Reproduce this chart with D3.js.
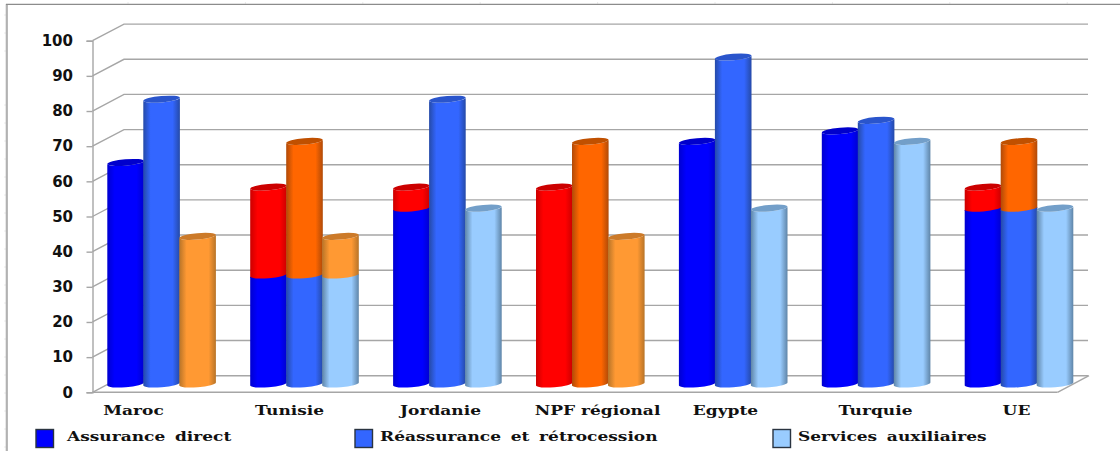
<!DOCTYPE html>
<html>
<head>
<meta charset="utf-8">
<script src="https://cdn.jsdelivr.net/npm/d3@7"></script>
<style>
html, body { margin: 0; padding: 0; background: #fff; }
svg { display: block; }
.cat, .leg { font-family: "DejaVu Serif", serif; font-weight: bold; fill: #111; }
.val { font-family: "DejaVu Sans", sans-serif; font-weight: bold; fill: #111; }
</style>
</head>
<body>
<div id="chart"></div>
<script>
const categories = ["Maroc", "Tunisie", "Jordanie", "NPF régional", "Egypte", "Turquie", "UE"];
const seriesNames = ["Assurance direct", "Réassurance et rétrocession", "Services auxiliaires"];

// lower part of each cylinder, in the series colour
const assuranceValues = [63, 31, 50, 0, 69, 72, 50];
const reassuranceValues = [81, 31, 81, 0, 93, 75, 50];
const servicesValues = [0, 31, 50, 0, 50, 69, 50];

// total height of each cylinder, the part above the lower value is in the warm colour
const assuranceTops = [63, 56, 56, 56, 69, 72, 56];
const reassuranceTops = [81, 69, 81, 69, 93, 75, 69];
const servicesTops = [42, 42, 50, 42, 50, 69, 50];

const yTicks = [0, 10, 20, 30, 40, 50, 60, 70, 80, 90, 100];

const width = 1120;
const height = 451;

const svg = d3.select("#chart").append("svg").attr("width", width).attr("height", height);
const defs = svg.append("defs");

// cool colour, warm colour, and the darker lids
const palette = [
	{ low: "#0000ff", lowEdge: "#0000d0", lowLid: "#0000cc", high: "#ff0000", highEdge: "#cc0000", highLid: "#cc0000" },
	{ low: "#3366ff", lowEdge: "#254aa8", lowLid: "#2a55cc", high: "#ff6600", highEdge: "#b04a08", highLid: "#c05000" },
	{ low: "#99ccff", lowEdge: "#5f85a8", lowLid: "#739fc9", high: "#ff9933", highEdge: "#b87428", highLid: "#cc7a29" },
];

function addGradient(id, main, edge) {
	const g = defs.append("linearGradient").attr("id", id);
	[[0, edge], [0.2, main], [0.8, main], [1, edge]].forEach(([o, c]) => {
		g.append("stop").attr("offset", o).attr("stop-color", c);
	});
}
palette.forEach((p, i) => {
	addGradient("low" + i, p.low, p.lowEdge);
	addGradient("high" + i, p.high, p.highEdge);
});

// front plane of the 3D box, the back wall sits up and to the right of it
const y = d3.scaleLinear().domain([0, 100]).range([392.3, 40.7]);
const depthX = 31.5;
const depthY = 16.6;
const frontLeft = 92.5;
const frontRight = 1057.5;

// frame around the plot, with its faint ruler marks
const frame = svg.append("g").attr("fill", "none");
frame.append("line").attr("x1", 6.8).attr("x2", 6.8).attr("y1", 4).attr("y2", 451)
	.attr("stroke", "#b2b2b2").attr("stroke-width", 2.2);
frame.append("line").attr("x1", 6).attr("x2", 1120).attr("y1", 4.4).attr("y2", 4.4)
	.attr("stroke", "#8c8c8c").attr("stroke-width", 1.2);
frame.selectAll(".topmark").data(d3.range(128, 1120, 117.4)).join("line")
	.attr("stroke", "#d4d4d4")
	.attr("x1", (d) => d).attr("x2", (d) => d).attr("y1", 2.5).attr("y2", 4);
frame.selectAll(".leftmark").data(d3.range(15, 451, 18).filter((d) => d < 60 || d > 95)).join("line")
	.attr("stroke", "#d8d8d8")
	.attr("x1", 4.5).attr("x2", 6).attr("y1", (d) => d).attr("y2", (d) => d);

// back wall grid and the diagonal returns on the side wall
const grid = svg.append("g").attr("stroke", "#a6a6a6").attr("stroke-width", 1.4).attr("fill", "none");
grid.selectAll(".wall").data(yTicks).join("path")
	.attr("d", (d) => `M${frontLeft},${y(d)}L${frontLeft + depthX},${y(d) - depthY}H${frontRight + depthX - 1}`);
grid.append("path").attr("d", `M${frontRight},${y(0)}L${frontRight + depthX},${y(0) - depthY}`);

// value axis
const yAxis = d3.axisLeft(y).tickValues(yTicks).tickSize(6).tickPadding(13.5);
const yG = svg.append("g").attr("transform", `translate(${frontLeft},0)`).call(yAxis);
yG.select(".domain").attr("stroke", "#a6a6a6").attr("stroke-width", 1.4);
yG.selectAll(".tick line").attr("stroke", "#a6a6a6").attr("stroke-width", 1.4);
yG.selectAll(".tick text").attr("class", "val").style("font-size", "15px");
yG.attr("font-family", null).attr("font-size", null);

// floor front edge
svg.append("line").attr("x1", frontLeft).attr("x2", frontRight)
	.attr("y1", y(0)).attr("y2", y(0)).attr("stroke", "#a6a6a6").attr("stroke-width", 1.4);

// category slots and the cylinders inside each slot
const x0 = d3.scaleBand().domain(categories).range([107.3, 107.3 + 142.9 * 7]);
const x1 = d3.scaleBand().domain([0, 1, 2]).range([0, 36 * 3]);

const rx = 18.3;
const ry = 3.2;
const tilt = 1.6;
const base = y(0) - 8.3;
const barY = (v) => base - (y(0) - y(v));

// side body between two heights, with the front arc at both ends
function bodyPath(cx, y1, y2) {
	return `M${cx - rx},${y2 + tilt}L${cx - rx},${y1 + tilt}` +
		`A${rx},${ry} -5 0 0 ${cx + rx},${y1 - tilt}` +
		`L${cx + rx},${y2 - tilt}` +
		`A${rx},${ry} -5 0 1 ${cx - rx},${y2 + tilt}Z`;
}

const series = [
	{ lows: assuranceValues, tops: assuranceTops },
	{ lows: reassuranceValues, tops: reassuranceTops },
	{ lows: servicesValues, tops: servicesTops },
];

const bars = [];
categories.forEach((c, ci) => {
	series.forEach((s, si) => {
		bars.push({ cat: c, si, low: s.lows[ci], top: s.tops[ci] });
	});
});

const barG = svg.append("g").selectAll("g").data(bars).join("g");
const cxOf = (d) => x0(d.cat) + x1(d.si) + rx;

// warm part starts where the cool part stops, so it never shows round the edges
barG.filter((d) => d.top > d.low).append("path")
	.attr("d", (d) => bodyPath(cxOf(d), d.low > 0 ? barY(d.low) + 1 : barY(0), barY(d.top)))
	.attr("fill", (d) => `url(#high${d.si})`);

barG.filter((d) => d.low > 0).append("path")
	.attr("d", (d) => bodyPath(cxOf(d), barY(0), barY(d.low)))
	.attr("fill", (d) => `url(#low${d.si})`);

barG.append("ellipse")
	.attr("rx", rx)
	.attr("ry", ry)
	.attr("transform", (d) => `translate(${cxOf(d)},${barY(d.top)}) rotate(-5)`)
	.attr("fill", (d) => (d.top > d.low ? palette[d.si].highLid : palette[d.si].lowLid));

// serif labels are drawn wide, stretched from their natural length
const stretch = 1.26;
function widen(sel) {
	sel.each(function () {
		d3.select(this)
			.attr("textLength", this.getComputedTextLength() * stretch)
			.attr("lengthAdjust", "spacingAndGlyphs");
	});
}

// the category names do not sit evenly under their groups
const catLabelX = [133, 289, 440, 597, 725, 875, 1016];
const catScale = d3.scaleOrdinal().domain(categories).range(catLabelX);
const xAxis = d3.axisBottom(catScale).tickSize(0).tickPadding(0);
const xG = svg.append("g").attr("transform", "translate(0,403)").call(xAxis);
xG.select(".domain").remove();
xG.attr("font-family", null).attr("font-size", null);
xG.selectAll(".tick text").attr("class", "cat").attr("dy", "0.9em").style("font-size", "13.5px").call(widen);

// legend
const legendSwatchX = [36, 355, 773];
const legendTextX = [67, 380, 798];
const legendG = svg.append("g").selectAll("g").data(seriesNames).join("g");
legendG.append("rect")
	.attr("x", (d, i) => legendSwatchX[i])
	.attr("y", 429.5)
	.attr("width", 17.5)
	.attr("height", 18)
	.attr("fill", (d, i) => palette[i].low)
	.attr("stroke", "#2a3440")
	.attr("stroke-width", 1.4);
legendG.append("text")
	.attr("class", "leg")
	.attr("x", (d, i) => legendTextX[i])
	.attr("y", 441)
	.style("font-size", "13.5px")
	.style("word-spacing", "3px")
	.text((d) => d)
	.call(widen);
</script>
</body>
</html>
